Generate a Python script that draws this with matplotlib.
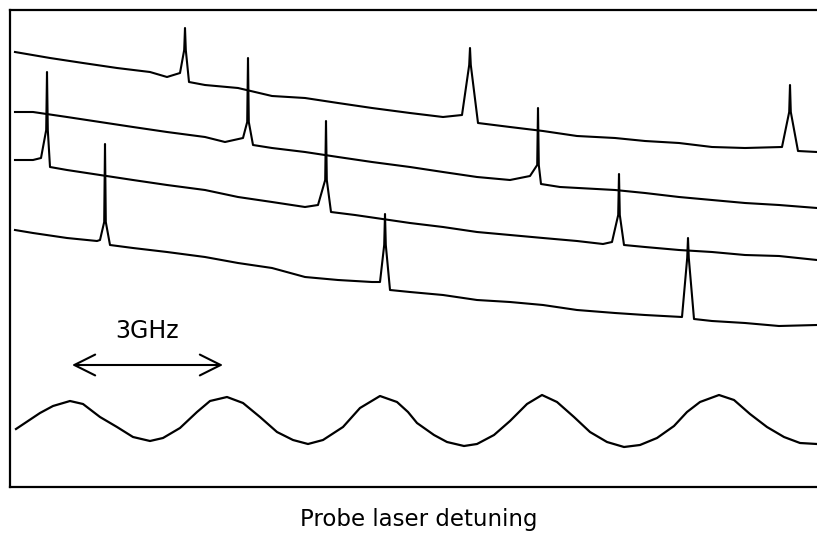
import numpy as np
import matplotlib.pyplot as plt
from matplotlib.patches import FancyArrowPatch

plt.rcParams['font.family'] = ['DejaVu Sans']

# ------------------------------------------------------------------
# Data (detuning in arb. units, signal in screen units,
# larger value = lower on the page)
# ------------------------------------------------------------------
trace_a_x = [15, 50, 83, 117, 150, 167, 180, 189, 205, 238, 272, 305, 338, 372,
             410, 443, 462, 478, 510, 543, 577, 615, 645, 679, 712, 745, 782,
             798, 817]
trace_a_y = [52, 58, 63, 68, 72, 77, 73, 82, 85, 88, 96, 98, 103, 108,
             113, 117, 115, 123, 127, 131, 136, 138, 141, 143, 147, 148, 147,
             151, 152]
peaks_a = [(185, 28, 50), (470, 48, 65), (790, 85, 112)]   # x, top, mid

trace_b_x = [15, 33, 67, 100, 133, 167, 205, 225, 243, 253, 272, 305, 338, 372,
             410, 443, 477, 510, 530, 541, 560, 615, 645, 679, 712, 745, 779, 817]
trace_b_y = [112, 112, 117, 122, 127, 132, 137, 142, 138, 145, 148, 152, 157, 162,
             167, 172, 177, 180, 176, 184, 187, 190, 193, 197, 200, 203, 205, 208]
peaks_b = [(248, 58, 122), (538, 108, 165)]

trace_c_x = [15, 33, 41, 50, 67, 100, 133, 167, 205, 238, 272, 305, 318, 331,
             355, 410, 443, 477, 510, 543, 577, 603, 612, 624, 645, 679, 712,
             745, 779, 817]
trace_c_y = [160, 160, 158, 167, 170, 175, 180, 185, 190, 197, 202, 207, 205, 212,
             215, 223, 227, 232, 235, 238, 241, 244, 242, 245, 247, 250, 252,
             255, 256, 260]
peaks_c = [(47, 72, 130), (326, 121, 180), (619, 174, 215)]

trace_d_x = [15, 33, 67, 97, 100, 110, 133, 167, 205, 238, 272, 305, 338, 372,
             380, 390, 410, 443, 477, 510, 543, 577, 615, 645, 682, 694, 712,
             745, 779, 817]
trace_d_y = [230, 233, 238, 241, 240, 245, 248, 252, 257, 263, 268, 277, 280, 282,
             282, 290, 292, 295, 300, 302, 305, 310, 313, 315, 317, 319, 321,
             323, 326, 325]
peaks_d = [(105, 144, 222), (385, 214, 245), (688, 238, 258)]

# Fabry-Perot reference (bottom trace)
ref_x = [16, 40, 53, 70, 83, 100, 117, 133, 150, 163, 180, 197, 210, 227, 243,
         260, 277, 293, 308, 323, 343, 360, 380, 397, 408, 417, 434, 447, 464,
         477, 494, 510, 527, 542, 557, 574, 590, 607, 624, 640, 657, 674, 687,
         700, 719, 734, 750, 767, 784, 800, 817]
ref_y = [429, 413, 406, 401, 404, 417, 427, 437, 441, 438, 428, 412, 401, 397, 403,
         417, 432, 440, 444, 440, 427, 408, 396, 402, 412, 423, 435, 442, 446,
         444, 435, 421, 404, 395, 402, 417, 432, 442, 447, 445, 438, 426, 412,
         402, 395, 400, 414, 427, 437, 443, 444]

fsr_span = [72, 223]      # one free spectral range = 3 GHz
fsr_level = 365
fsr_label = '3GHz'


def with_peaks(bx, by, peaks):
    xs = list(bx)
    ys = list(by)
    for x0, top, mid in peaks:
        xs += [x0 - 0.8, x0, x0 + 0.8]
        ys += [mid, top, mid]
    order = np.argsort(xs, kind='stable')
    return np.array(xs)[order], np.array(ys)[order]


fig = plt.figure(figsize=(8.17, 5.33), dpi=100)
ax = fig.add_axes([10 / 817, 46 / 533, 807 / 817, 477 / 533])

for bx, by, pk in [(trace_a_x, trace_a_y, peaks_a),
                   (trace_b_x, trace_b_y, peaks_b),
                   (trace_c_x, trace_c_y, peaks_c),
                   (trace_d_x, trace_d_y, peaks_d)]:
    x, y = with_peaks(bx, by, pk)
    ax.plot(x, y, color='black', lw=1.5, solid_joinstyle='round')

ax.plot(ref_x, ref_y, color='black', lw=1.6, solid_joinstyle='round')

arr = FancyArrowPatch((fsr_span[0], fsr_level), (fsr_span[1], fsr_level),
                      arrowstyle='<->,head_length=1.5,head_width=0.75',
                      mutation_scale=10, lw=1.5, color='black',
                      shrinkA=0, shrinkB=0)
ax.add_patch(arr)
ax.text(np.mean(fsr_span), 331, fsr_label, ha='center', va='center', fontsize=17)

ax.set_xlim(10, 817)
ax.set_ylim(487, 10)
ax.set_xticks([])
ax.set_yticks([])
ax.spines['right'].set_visible(False)
for s in ['top', 'left', 'bottom']:
    ax.spines[s].set_linewidth(1.6)

fig.text(419 / 817, 7 / 533, 'Probe laser detuning', ha='center', va='baseline',
         fontsize=16.5)

fig.savefig('out.png', dpi=100)
